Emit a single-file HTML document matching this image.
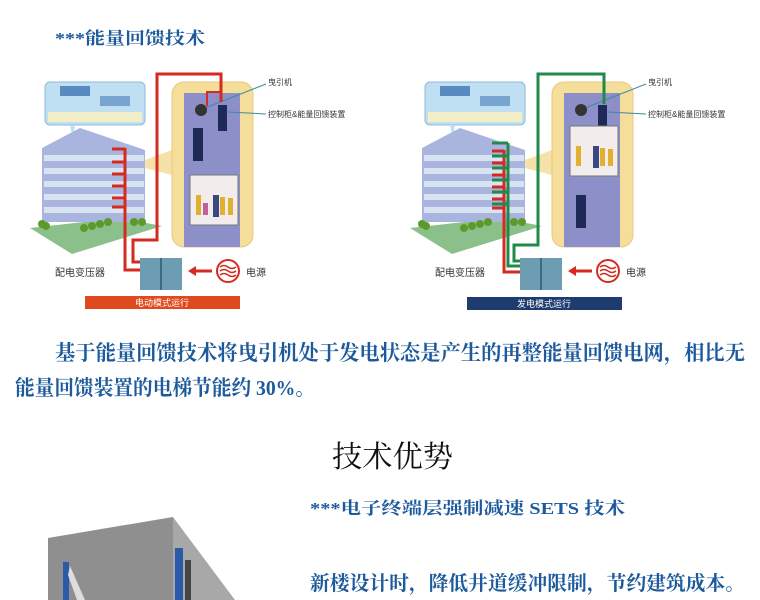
<!DOCTYPE html>
<html><head><meta charset="utf-8"><style>
html,body{margin:0;padding:0;background:#fff;}
svg{display:block;}
.b{font-family:"Liberation Serif","Noto Serif CJK SC",serif;font-weight:bold;fill:#1d5a9c;}
.s{font-family:"Liberation Sans","Noto Sans CJK SC",sans-serif;fill:#333;}
</style></head><body>
<svg width="760" height="600" viewBox="0 0 760 600" xmlns="http://www.w3.org/2000/svg">
<rect width="760" height="600" fill="#fff"/>
<text class="b" x="55" y="44" font-size="17" textLength="150" lengthAdjust="spacingAndGlyphs">***能量回馈技术</text>

<defs>
<g id="bld">
  <!-- sky box -->
  <rect x="45" y="82" width="100" height="43" rx="5" fill="#bfe0f2" stroke="#8fb8d8"/>
  <rect x="60" y="86" width="30" height="10" fill="#5a8bc0"/>
  <rect x="100" y="96" width="30" height="10" fill="#5a8bc0" opacity=".7"/>
  <rect x="48" y="112" width="94" height="10" fill="#f2eec8"/>
  <polygon points="70,125 75,125 73,140" fill="#bfe0f2"/>
  <!-- ground -->
  <polygon points="30,228 72,254 162,226 120,218" fill="#8cc08a"/>
  <!-- building -->
  <polygon points="42,148 80,128 145,150 145,222 42,222" fill="#a9b5de"/>
  <g fill="#d9e4f2">
    <rect x="44" y="155" width="100" height="6"/>
    <rect x="44" y="168" width="100" height="6"/>
    <rect x="44" y="181" width="100" height="6"/>
    <rect x="44" y="194" width="100" height="6"/>
    <rect x="44" y="207" width="100" height="6"/>
  </g>
  <g fill="#5c9a2c">
    <circle cx="42" cy="224" r="4"/><circle cx="46" cy="226" r="4"/>
    <circle cx="84" cy="228" r="4"/><circle cx="92" cy="226" r="4"/><circle cx="100" cy="224" r="4"/><circle cx="108" cy="222" r="4"/>
    <circle cx="134" cy="222" r="4"/><circle cx="142" cy="222" r="4"/>
  </g>
  <polygon points="145,160 172,150 172,175 145,168" fill="#f5e2a8"/>
  <!-- panel -->
  <rect x="172" y="82" width="81" height="165" rx="12" fill="#f5dd9a" stroke="#e8c880"/>
  <rect x="184" y="93" width="56" height="154" fill="#8d90c8"/>
  <!-- transformer -->
  <rect x="140" y="258" width="42" height="32" fill="#6e9cb2"/>
  <line x1="161" y1="258" x2="161" y2="290" stroke="#3e6a82" stroke-width="2"/>
  <line x1="212" y1="271" x2="192" y2="271" stroke="#d42a20" stroke-width="3"/>
  <polygon points="188,271 196,266 196,276" fill="#d42a20"/>
  <circle cx="228" cy="271" r="11" fill="#fff" stroke="#d42a20" stroke-width="2"/>
  <path d="M220 267 q4 -3 8 0 t8 0 M220 271 q4 -3 8 0 t8 0 M220 275 q4 -3 8 0 t8 0" fill="none" stroke="#d42a20" stroke-width="1.5"/>
  <text class="s" x="55" y="276" font-size="10">配电变压器</text>
  <text class="s" x="246" y="276" font-size="10">电源</text>
  <text class="s" x="268" y="85" font-size="8">曳引机</text>
  <text class="s" x="268" y="117" font-size="8">控制柜&amp;能量回馈装置</text>
  <line x1="266" y1="84" x2="205" y2="108" stroke="#3d8aa0"/>
  <line x1="266" y1="114" x2="228" y2="112" stroke="#3d8aa0"/>
  <!-- machine -->
  <circle cx="201" cy="110" r="6" fill="#333"/>
  <rect x="218" y="105" width="9" height="26" fill="#1e2a55"/>
</g>
</defs>

<!-- left diagram -->
<use href="#bld"/>
<rect x="193" y="128" width="10" height="33" fill="#1e2a55"/>
<rect x="190" y="175" width="48" height="50" fill="#f3ecec" stroke="#777"/>
<g fill="#e0b030"><rect x="196" y="195" width="5" height="20"/><rect x="220" y="197" width="5" height="18"/><rect x="228" y="198" width="5" height="17"/></g>
<g fill="#3a4a80"><rect x="213" y="195" width="6" height="22"/></g>
<g fill="#c060a0"><rect x="203" y="203" width="5" height="12"/></g>
<path d="M125 148 V270 H140 M112 149 H125 M112 162 H125 M112 174 H125 M112 186 H125 M112 198 H125 M112 207 H125" fill="none" stroke="#d42a20" stroke-width="3"/>
<path d="M140 262 H133 V240 H157 V74 H221 V102" fill="none" stroke="#d42a20" stroke-width="3"/>
<path d="M221 92 H207 V106" fill="none" stroke="#d42a20" stroke-width="2"/>
<rect x="85" y="296" width="155" height="13" fill="#e0481e"/>
<text x="162" y="306" font-size="9" fill="#fff" text-anchor="middle" font-family="Liberation Sans, Noto Sans CJK SC, sans-serif">电动模式运行</text>

<!-- right diagram -->
<g transform="translate(380,0)">
<use href="#bld"/>
<rect x="196" y="195" width="10" height="33" fill="#1e2a55"/>
<rect x="190" y="126" width="48" height="50" fill="#f3ecec" stroke="#777"/>
<g fill="#e0b030"><rect x="196" y="146" width="5" height="20"/><rect x="220" y="148" width="5" height="18"/><rect x="228" y="149" width="5" height="17"/></g>
<g fill="#3a4a80"><rect x="213" y="146" width="6" height="22"/></g>
<path d="M124 150 V272 H140 M112 151 H124 M112 163 H124 M112 175 H124 M112 187 H124 M112 199 H124 M112 208 H124" fill="none" stroke="#d42a20" stroke-width="3"/>
<path d="M128 143 V266 H140 M112 143 H128 M112 156 H128 M112 168 H128 M112 180 H128 M112 192 H128 M112 204 H128" fill="none" stroke="#1f8a4a" stroke-width="3"/>
<path d="M140 261 H134 V245 H158 V74 H224 V104" fill="none" stroke="#1f8a4a" stroke-width="3"/>
<rect x="87" y="297" width="155" height="13" fill="#1f3c6e"/>
<text x="164" y="307" font-size="9" fill="#fff" text-anchor="middle" font-family="Liberation Sans, Noto Sans CJK SC, sans-serif">发电模式运行</text>
</g>

<text class="b" x="55" y="360" font-size="21" textLength="690" lengthAdjust="spacingAndGlyphs">基于能量回馈技术将曳引机处于发电状态是产生的再整能量回馈电网，相比无</text>
<text class="b" x="15" y="395" font-size="21" textLength="300" lengthAdjust="spacingAndGlyphs">能量回馈装置的电梯节能约 30%。</text>

<text x="332" y="467" font-size="30" fill="#111" font-family="Liberation Serif, Noto Serif CJK SC, serif" textLength="121" lengthAdjust="spacingAndGlyphs">技术优势</text>
<text class="b" x="310" y="514" font-size="17" textLength="315" lengthAdjust="spacingAndGlyphs">***电子终端层强制减速 SETS 技术</text>
<text class="b" x="310" y="590" font-size="20" textLength="435" lengthAdjust="spacingAndGlyphs">新楼设计时，降低井道缓冲限制，节约建筑成本。</text>

<!-- shaft photo -->
<polygon points="48,538 173,517 173,600 48,600" fill="#8f8f8f"/>
<polygon points="173,517 235,600 173,600" fill="#a8a8a8"/>
<rect x="63" y="562" width="6" height="38" fill="#2a5aa8"/>
<rect x="175" y="548" width="8" height="52" fill="#2a5aa8"/>
<rect x="185" y="560" width="6" height="40" fill="#444"/>
<polygon points="70,566 85,600 77,600 68,575" fill="#ddd"/>
</svg>
</body></html>
